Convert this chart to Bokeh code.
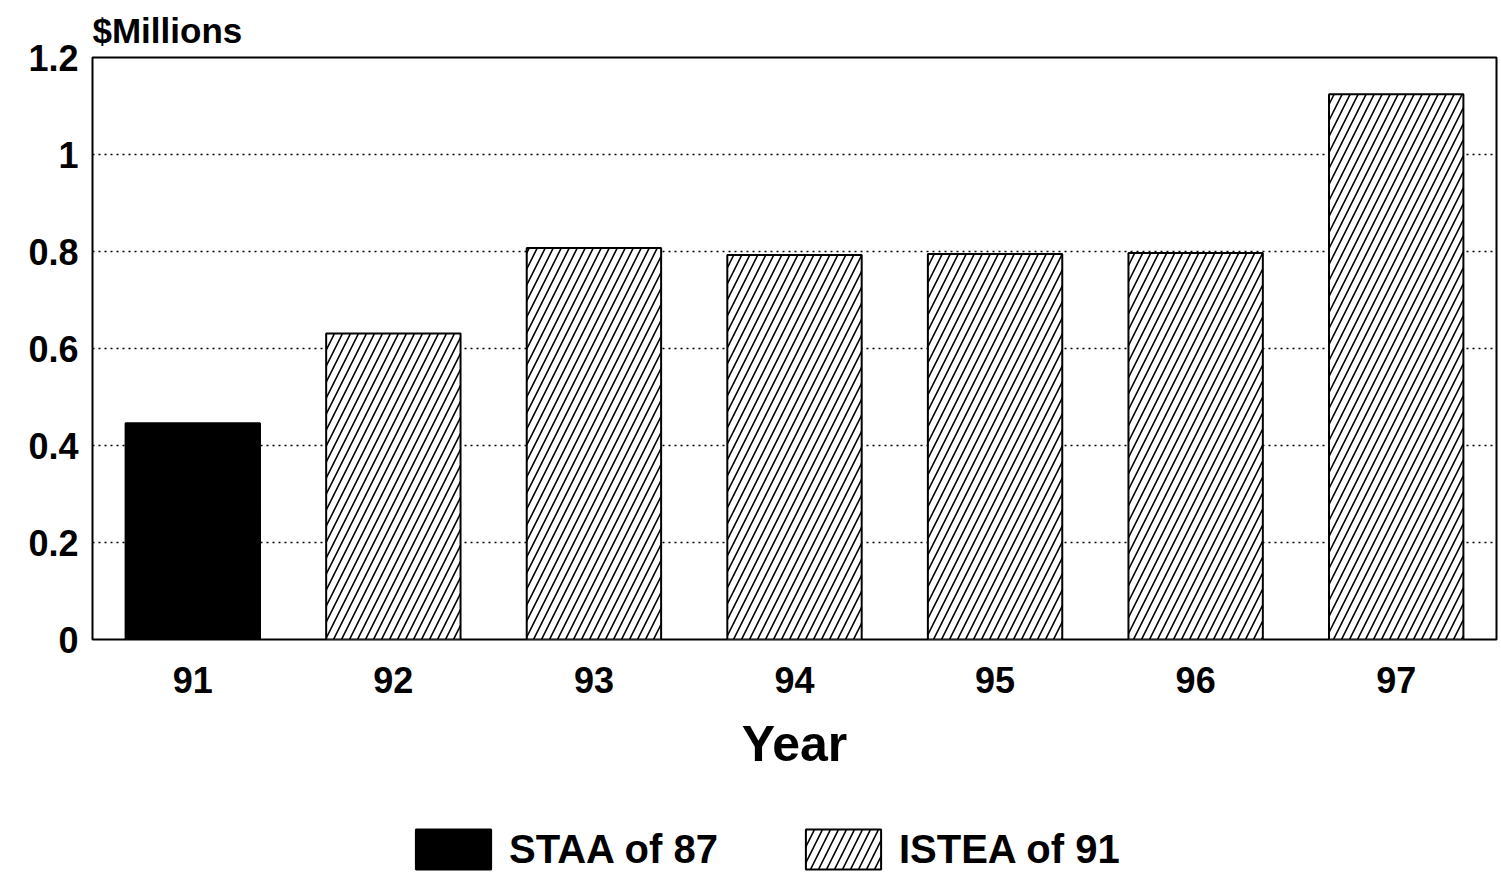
from bokeh.plotting import figure
from bokeh.layouts import column
from bokeh.models import FactorRange, Range1d, Legend, LegendItem, FixedTicker, ColumnDataSource
from bokeh.embed import file_html
from bokeh.resources import INLINE

years = ["91", "92", "93", "94", "95", "96", "97"]
staa_years = ["91"]
staa_values = [0.446]
istea_years = ["92", "93", "94", "95", "96", "97"]
istea_values = [0.631, 0.807, 0.793, 0.795, 0.797, 1.124]
y_ticks = [0, 0.2, 0.4, 0.6, 0.8, 1.0, 1.2]
legend_labels = ["STAA of 87", "ISTEA of 91"]

FONT = "Liberation Sans"

p = figure(frame_width=1404, frame_height=582, output_backend="svg", toolbar_location=None,
           x_range=FactorRange(*years, range_padding=0), y_range=Range1d(0, 1.2),
           title="$Millions")
p.min_border_left = 92
p.min_border_right = 2
p.min_border_top = 57
p.min_border_bottom = 0

p.title.text_font = FONT
p.title.text_font_size = "35px"
p.title.text_font_style = "bold"
p.title.text_color = "black"
p.title.align = "left"
p.title.standoff = 15
p.title.offset = 0

staa_style = dict(fill_color="black", line_color="black", line_width=2)
istea_style = dict(fill_color="white", line_color="black", line_width=2, hatch_pattern="/",
                   hatch_color="black", hatch_scale=16, hatch_weight=1.6)

src1 = ColumnDataSource(dict(x=staa_years, top=staa_values))
src2 = ColumnDataSource(dict(x=istea_years, top=istea_values))
p.vbar(x="x", top="top", width=0.67, source=src1, **staa_style)
p.vbar(x="x", top="top", width=0.67, source=src2, **istea_style)

p.outline_line_color = "black"
p.outline_line_width = 2
p.background_fill_color = "white"
p.border_fill_color = "white"

p.xgrid.grid_line_color = None
p.ygrid.grid_line_color = "black"
p.ygrid.grid_line_dash = "2 4"
p.ygrid.grid_line_width = 1.5
p.yaxis.ticker = FixedTicker(ticks=y_ticks)
p.yaxis.major_label_overrides = {1.2: "1.2", 1.0: "1", 0: "0"}

for ax in (p.xaxis[0], p.yaxis[0]):
    ax.axis_line_color = None
    ax.major_tick_line_color = None
    ax.minor_tick_line_color = None
    ax.major_label_text_font = FONT
    ax.major_label_text_font_style = "bold"
    ax.major_label_text_font_size = "36px"
    ax.major_label_text_color = "black"

p.yaxis.major_label_standoff = 8
p.xaxis.major_label_standoff = 21
p.xaxis.axis_label = "Year"
p.xaxis.axis_label_text_font = FONT
p.xaxis.axis_label_text_font_style = "bold"
p.xaxis.axis_label_text_font_size = "50px"
p.xaxis.axis_label_text_color = "black"
p.xaxis.axis_label_standoff = 20

# legend strip below the chart (hidden copies of the bar renderers feed the legend)
p2 = figure(width=1498, height=102, output_backend="svg", toolbar_location=None,
            x_axis_type=None, y_axis_type=None,
            x_range=FactorRange(*years), y_range=Range1d(10, 11))
p2.min_border = 0
p2.outline_line_color = None
p2.grid.grid_line_color = None
p2.background_fill_color = "white"
p2.border_fill_color = "white"
l1 = p2.vbar(x="x", top="top", width=0.67, source=src1, visible=False, **staa_style)
l2 = p2.vbar(x="x", top="top", width=0.67, source=src2, visible=False, **istea_style)

legend = Legend(items=[LegendItem(label=legend_labels[0], renderers=[l1]),
                       LegendItem(label=legend_labels[1], renderers=[l2])],
                orientation="horizontal", location=(314, 2))
legend.glyph_width = 94
legend.glyph_height = 50
legend.label_text_font = FONT
legend.label_text_font_style = "bold"
legend.label_text_font_size = "40px"
legend.label_text_color = "black"
legend.label_standoff = 9
legend.spacing = 78
legend.border_line_color = None
legend.background_fill_alpha = 0
legend.inactive_fill_alpha = 0
legend.margin = 0
legend.padding = 0
p2.add_layout(legend)

open("out.html", "w").write(file_html(column(p, p2, spacing=0), INLINE))
